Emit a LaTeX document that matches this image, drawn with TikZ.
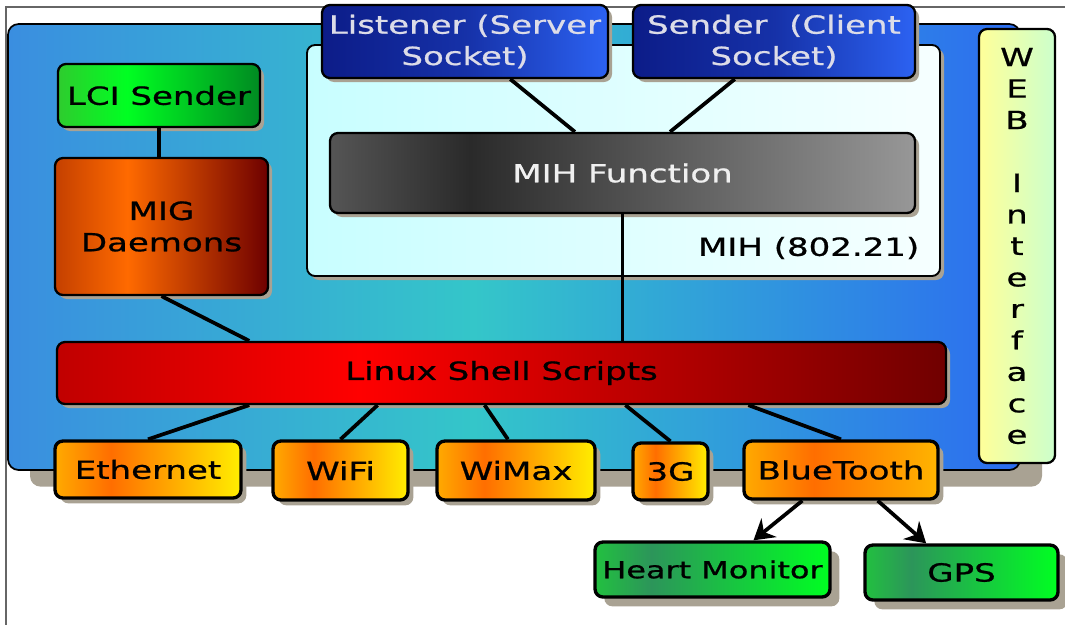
\documentclass[tikz,border=0pt]{standalone}
\usepackage{fontspec}
\setmainfont{DejaVu Sans}[FakeStretch=1.36,FakeBold=0.8]
\usetikzlibrary{shadows,arrows.meta,calc}
\definecolor{ob1}{HTML}{3A8EE0}\definecolor{ob2}{HTML}{34C6C9}\definecolor{ob3}{HTML}{2C6CF0}
\definecolor{mp1}{HTML}{C8FEFF}\definecolor{mp2}{HTML}{F6FFFF}
\definecolor{bl1}{HTML}{0C1C88}\definecolor{bl2}{HTML}{2C62F2}
\definecolor{mf1}{HTML}{555555}\definecolor{mf2}{HTML}{2A2A2A}\definecolor{mf3}{HTML}{979797}
\definecolor{lc1}{HTML}{2ECC2E}\definecolor{lc2}{HTML}{00FF22}\definecolor{lc3}{HTML}{008A22}
\definecolor{mg1}{HTML}{C44000}\definecolor{mg2}{HTML}{FF6A00}\definecolor{mg3}{HTML}{6E0000}
\definecolor{ls1}{HTML}{C00000}\definecolor{ls2}{HTML}{FF0000}\definecolor{ls3}{HTML}{700000}
\definecolor{dv1}{HTML}{FFAA00}\definecolor{dv2}{HTML}{FF6E00}\definecolor{dv3}{HTML}{FFEE00}
\definecolor{bt3}{HTML}{FFB400}
\definecolor{wb1}{HTML}{FFFF99}\definecolor{wb2}{HTML}{CCFFCC}
\definecolor{gr1}{HTML}{22C040}\definecolor{gr2}{HTML}{2C955A}\definecolor{gr3}{HTML}{00FF22}
\definecolor{shadowc}{HTML}{A9A293}
\definecolor{lighttxt}{HTML}{DCDCE8}
\pgfdeclarehorizontalshading{outerS}{100bp}{color(0bp)=(ob1); color(25bp)=(ob1); color(48bp)=(ob2); color(75bp)=(ob3); color(100bp)=(ob3)}
\pgfdeclarehorizontalshading{panelS}{100bp}{color(0bp)=(mp1); color(25bp)=(mp1); color(75bp)=(mp2); color(100bp)=(mp2)}
\pgfdeclarehorizontalshading{blueS}{100bp}{color(0bp)=(bl1); color(25bp)=(bl1); color(50bp)=(bl1!70!bl2); color(75bp)=(bl2); color(100bp)=(bl2)}
\pgfdeclarehorizontalshading{mfS}{100bp}{color(0bp)=(mf1); color(25bp)=(mf1); color(37bp)=(mf2); color(75bp)=(mf3); color(100bp)=(mf3)}
\pgfdeclarehorizontalshading{lciS}{100bp}{color(0bp)=(lc1); color(25bp)=(lc1); color(42bp)=(lc2); color(75bp)=(lc3); color(100bp)=(lc3)}
\pgfdeclarehorizontalshading{migS}{100bp}{color(0bp)=(mg1); color(25bp)=(mg1); color(42bp)=(mg2); color(75bp)=(mg3); color(100bp)=(mg3)}
\pgfdeclarehorizontalshading{lsS}{100bp}{color(0bp)=(ls1); color(25bp)=(ls1); color(42bp)=(ls2); color(75bp)=(ls3); color(100bp)=(ls3)}
\pgfdeclarehorizontalshading{devS}{100bp}{color(0bp)=(dv1); color(25bp)=(dv1); color(40bp)=(dv2); color(75bp)=(dv3); color(100bp)=(dv3)}
\pgfdeclarehorizontalshading{btS}{100bp}{color(0bp)=(dv1); color(25bp)=(dv1); color(43bp)=(dv2); color(75bp)=(bt3); color(100bp)=(bt3)}
\pgfdeclarehorizontalshading{webS}{100bp}{color(0bp)=(wb1); color(25bp)=(wb1); color(75bp)=(wb2); color(100bp)=(wb2)}
\pgfdeclarehorizontalshading{grS}{100bp}{color(0bp)=(gr1); color(25bp)=(gr1); color(37bp)=(gr2); color(75bp)=(gr3); color(100bp)=(gr3)}
\newcommand\bx[7]{\node[#6, minimum width={(#4-#2)*0.75pt}, minimum height={(#5-#3)*0.75pt}] (#1) at ({(#2+#4)/2},{(#3+#5)/2}) {#7};}
\begin{document}
\begin{tikzpicture}[x=0.75pt,y=-0.75pt,
  box/.style={draw=black, line width=1.7pt, rounded corners=6pt, inner sep=0pt, align=center,
    font=\fontsize{18.75}{23.5}\selectfont},
  devbox/.style={box, line width=2.5pt, shading=devS, shad=4pt},
  shad/.style={drop shadow={shadow xshift=#1, shadow yshift=-#1, fill=shadowc, opacity=1}},
  conn/.style={line width=2.8pt, black},
  arr/.style={conn, -{Stealth[length=15pt,width=18pt,inset=5pt]}}]
\useasboundingbox (0,0) rectangle (1065,625);
\draw[gray!80!black, line width=1pt] (6,640) -- (6,7) -- (1080,7);
% outer container
\bx{outer}{8}{24}{1020}{470}{box, line width=1.3pt, rounded corners=8pt, shading=outerS, drop shadow={shadow xshift=16.5pt, shadow yshift=-12.5pt, fill=shadowc, opacity=1}}{}
\bx{panel}{307}{45}{940}{276}{box, line width=1.4pt, shading=panelS, shad=3pt}{}
\node[anchor=east, font=\fontsize{18.75}{23.5}\selectfont] (mihlbl) at (924,248) {MIH (802.21)};
\bx{lis}{322}{5}{608}{78}{box, shading=blueS, shad=3pt, text=lighttxt}{Listener (Server\\Socket)}
\bx{snd}{633}{5}{915}{78}{box, shading=blueS, shad=3pt, text=lighttxt}{Sender~ (Client\\Socket)}
\bx{mf}{330}{133}{915}{213}{box, shading=mfS, shad=3pt, text=white!94!black}{MIH Function}
\bx{lci}{58}{64}{260}{127}{box, shading=lciS, shad=3pt}{LCI Sender}
\bx{mig}{55}{158}{268}{295}{box, shading=migS, shad=3pt}{MIG\\Daemons}
\bx{ls}{57}{342}{946}{404}{box, shading=lsS, shad=3pt}{Linux Shell Scripts}
\bx{web}{979}{29}{1055}{463}{box, shading=webS, font=\fontsize{18.75}{23.6}\selectfont}{W\\E\\B\\[23.6pt]I\\n\\t\\e\\r\\f\\a\\c\\e}
\bx{eth}{55}{441}{241}{498}{devbox}{Ethernet}
\bx{wifi}{273}{441}{408}{500}{devbox}{WiFi}
\bx{wimax}{437}{441}{595}{500}{devbox}{WiMax}
\bx{g3}{633}{443}{708}{500}{devbox}{3G}
\bx{bt}{744}{441}{938}{499}{devbox, shading=btS}{BlueTooth}
\bx{hm}{595}{542}{830}{597}{box, line width=2.5pt, shading=grS, shad=7pt, font=\fontsize{17.6}{22}\selectfont}{Heart Monitor}
\bx{gps}{865}{545}{1058}{600}{box, line width=2.5pt, shading=grS, shad=7pt}{GPS}
% connectors
\draw[conn] (lci.south) -- (lci.south |- mig.north);
\draw[conn] (mig.south) -- ($(ls.north west)!.217!(ls.north east)$);
\draw[conn] ($(lis.south west)!.657!(lis.south east)$) -- ($(mf.north west)!.419!(mf.north east)$);
\draw[conn] ($(snd.south west)!.362!(snd.south east)$) -- ($(mf.north west)!.581!(mf.north east)$);
\draw[conn] (mf.south) -- (mf.south |- ls.north);
\draw[conn] ($(ls.south west)!.217!(ls.south east)$) -- (eth.north);
\draw[conn] ($(ls.south west)!.361!(ls.south east)$) -- (wifi.north);
\draw[conn] ($(ls.south west)!.481!(ls.south east)$) -- ($(wimax.north west)!.45!(wimax.north east)$);
\draw[conn] ($(ls.south west)!.639!(ls.south east)$) -- (g3.north);
\draw[conn] ($(ls.south west)!.777!(ls.south east)$) -- (bt.north);
\draw[arr] ($(bt.south west)!.304!(bt.south east)$) -- ($(hm.north west)!.672!(hm.north east)$);
\draw[arr] ($(bt.south west)!.686!(bt.south east)$) -- ($(gps.north west)!.32!(gps.north east)$);
\end{tikzpicture}
\end{document}
